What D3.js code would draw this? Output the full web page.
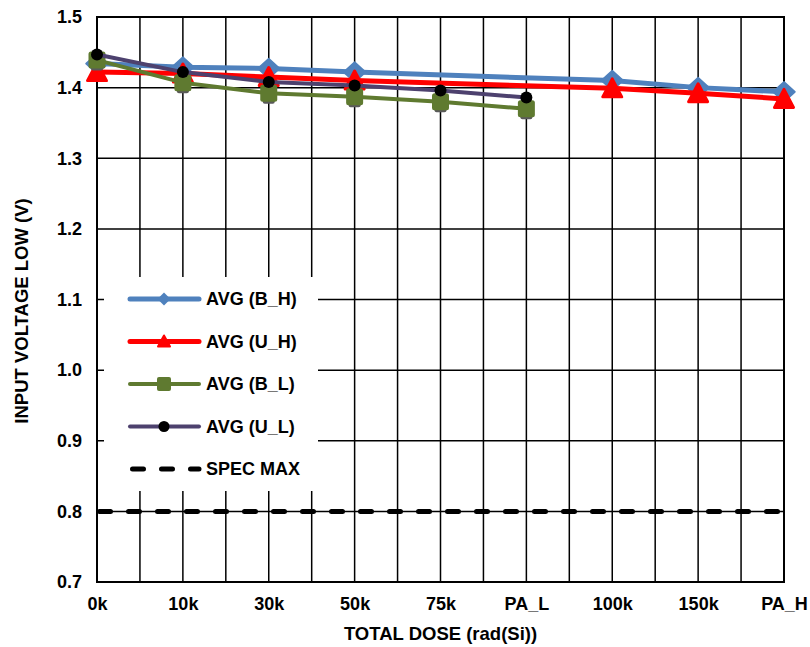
<!DOCTYPE html>
<html>
<head>
<meta charset="utf-8">
<script src="https://cdn.jsdelivr.net/npm/d3@7"></script>
<style>
  html, body { margin: 0; padding: 0; background: #fff; }
  svg text { font-family: "Liberation Sans", Arial, sans-serif; font-weight: bold; fill: #000; }
</style>
</head>
<body>
<svg id="chart" width="810" height="647"></svg>
<script>
// ---- data ----
const categories = ["0k", "10k", "30k", "50k", "75k", "PA_L", "100k", "150k", "PA_H"];
const avgBH = [1.434, 1.429, 1.427, 1.422, null, null, 1.410, 1.400, 1.394];
const avgUH = [1.422, 1.420, 1.415, 1.410, null, null, 1.399, 1.392, 1.384];
const avgBL = [1.439, 1.407, 1.392, 1.387, 1.380, 1.370, null, null, null];
const avgUL = [1.447, 1.422, 1.408, 1.403, 1.396, 1.386, null, null, null];
const specMax = [0.8, 0.8, 0.8, 0.8, 0.8, 0.8, 0.8, 0.8, 0.8];
const yTicks = [0.7, 0.8, 0.9, 1.0, 1.1, 1.2, 1.3, 1.4, 1.5];
const seriesNames = ["AVG (B_H)", "AVG (U_H)", "AVG (B_L)", "AVG (U_L)", "SPEC MAX"];

const svg = d3.select("#chart");
const pLeft = 97, pRight = 784, pTop = 17, pBottom = 582;

const x = d3.scalePoint().domain(categories).range([pLeft, pRight]);
const y = d3.scaleLinear().domain([0.7, 1.5]).range([pBottom, pTop]);

const g = svg.append("g");

// horizontal gridlines
g.selectAll("line.hgrid").data(yTicks).enter().append("line")
  .attr("x1", pLeft).attr("x2", pRight)
  .attr("y1", d => y(d)).attr("y2", d => y(d))
  .attr("stroke", "#000").attr("stroke-width", 1.5);

// vertical gridlines (at categories and halfway between)
const step = x.step();
const vpos = d3.range(0, categories.length * 2 - 1).map(i => x(categories[0]) + i * step / 2);
g.selectAll("line.vgrid").data(vpos).enter().append("line")
  .attr("x1", d => d).attr("x2", d => d)
  .attr("y1", pTop).attr("y2", pBottom)
  .attr("stroke", "#000").attr("stroke-width", 1.5);

// plot border
g.append("rect").attr("x", pLeft).attr("y", pTop).attr("width", pRight - pLeft).attr("height", pBottom - pTop)
  .attr("fill", "none").attr("stroke", "#000").attr("stroke-width", 2);

// y axis labels
const yAxis = d3.axisLeft(y).tickValues(yTicks).tickFormat(d3.format(".1f")).tickSize(0).tickPadding(15);
const ya = svg.append("g").attr("transform", `translate(${pLeft},0)`).call(yAxis);
ya.select(".domain").remove();
ya.selectAll("text").style("font-size", "18px").style("font-family", "Liberation Sans, Arial, sans-serif").style("font-weight", "bold").attr("fill", "#000");

// x axis labels
const xAxis = d3.axisBottom(x).tickSize(0).tickPadding(15);
const xa = svg.append("g").attr("transform", `translate(0,${pBottom})`).call(xAxis);
xa.select(".domain").remove();
xa.selectAll("text").style("font-size", "18px").style("font-family", "Liberation Sans, Arial, sans-serif").style("font-weight", "bold").attr("fill", "#000");

// axis titles
svg.append("text").attr("x", (pLeft + pRight) / 2).attr("y", 640).attr("text-anchor", "middle")
  .style("font-size", "18.5px").text("TOTAL DOSE (rad(Si))");
svg.append("text").attr("transform", `translate(28,311) rotate(-90)`).attr("text-anchor", "middle")
  .style("font-size", "18.5px").text("INPUT VOLTAGE LOW (V)");

// legend background
const lg = svg.append("g");
lg.append("rect").attr("x", 104).attr("y", 277).attr("width", 214).attr("height", 214).attr("fill", "#fff");

// marker painters
function diamond(sel, cx, cy, color) {
  sel.append("path").attr("d", `M${cx - 11},${cy} L${cx},${cy - 10} L${cx + 11},${cy} L${cx},${cy + 10} Z`)
    .attr("fill", color).attr("stroke", color).attr("stroke-width", 1.5).attr("stroke-linejoin", "round");
}
function triangle(sel, cx, cy, color) {
  sel.append("path").attr("d", `M${cx},${cy - 9.5} L${cx + 9.5},${cy + 8.5} L${cx - 9.5},${cy + 8.5} Z`)
    .attr("fill", color).attr("stroke", color).attr("stroke-width", 3).attr("stroke-linejoin", "round");
}
function square(sel, cx, cy, color) {
  sel.append("rect").attr("x", cx - 6).attr("y", cy + 2).attr("width", 12).attr("height", 8.5).attr("rx", 2)
    .attr("fill", "#5a5a5a");
  sel.append("rect").attr("x", cx - 8.5).attr("y", cy - 8.5).attr("width", 17).attr("height", 17).attr("rx", 2.5)
    .attr("fill", color);
}
function dot(sel, cx, cy) {
  sel.append("circle").attr("cx", cx).attr("cy", cy).attr("r", 6).attr("fill", "#000");
}

const series = [
  { name: seriesNames[0], values: avgBH, color: "#4F81BD", width: 5, marker: diamond },
  { name: seriesNames[1], values: avgUH, color: "#FF0000", width: 5, marker: triangle },
  { name: seriesNames[2], values: avgBL, color: "#5F7A30", width: 4, marker: square },
  { name: seriesNames[3], values: avgUL, color: "#4D416E", width: 4, marker: dot }
];

// spec max dashed line
const specLine = d3.line().x((d, i) => x(categories[i])).y(d => y(d));
svg.append("path").attr("d", specLine(specMax)).attr("fill", "none")
  .attr("stroke", "#000").attr("stroke-width", 5).attr("stroke-dasharray", "11 18")
  .attr("stroke-linecap", "round").attr("stroke-dashoffset", -2.5);

// series
const line = d3.line().x(d => x(d.c)).y(d => y(d.v));
series.forEach(s => {
  const pts = categories.map((c, i) => ({ c, v: s.values[i] })).filter(d => d.v != null);
  const sg = svg.append("g");
  sg.append("path").attr("d", line(pts)).attr("fill", "none").attr("stroke", s.color)
    .attr("stroke-width", s.width).attr("stroke-linejoin", "round").attr("stroke-linecap", "round");
  pts.forEach(p => s.marker(sg, x(p.c), y(p.v), s.color));
});

// legend entries
const rowY = [299, 341.5, 384, 426.5, 469];
series.forEach((s, i) => {
  const cy = rowY[i];
  lg.append("line").attr("x1", 130).attr("x2", 199).attr("y1", cy).attr("y2", cy)
    .attr("stroke", s.color).attr("stroke-width", s.width).attr("stroke-linecap", "round");
  if (i === 0) {
    lg.append("path").attr("d", `M${164 - 6.5},${cy} L${164},${cy - 6.5} L${164 + 6.5},${cy} L${164},${cy + 6.5} Z`).attr("fill", s.color);
  } else if (i === 1) {
    lg.append("path").attr("d", `M164,${cy - 6} L170,${cy + 5} L158,${cy + 5} Z`).attr("fill", s.color)
      .attr("stroke", s.color).attr("stroke-width", 2).attr("stroke-linejoin", "round");
  } else if (i === 2) {
    lg.append("rect").attr("x", 157).attr("y", cy - 7).attr("width", 14).attr("height", 14).attr("rx", 2).attr("fill", s.color);
  } else {
    lg.append("circle").attr("cx", 164).attr("cy", cy).attr("r", 5.5).attr("fill", "#000");
  }
  lg.append("text").attr("x", 206).attr("y", cy).attr("dy", "0.35em").style("font-size", "18px").text(s.name);
});
lg.append("line").attr("x1", 130).attr("x2", 199).attr("y1", rowY[4]).attr("y2", rowY[4])
  .attr("stroke", "#000").attr("stroke-width", 5).attr("stroke-dasharray", "11 18").attr("stroke-linecap", "round")
  .attr("stroke-dashoffset", -2.5);
lg.append("text").attr("x", 206).attr("y", rowY[4]).attr("dy", "0.35em").style("font-size", "18px").text(seriesNames[4]);
</script>
</body>
</html>
